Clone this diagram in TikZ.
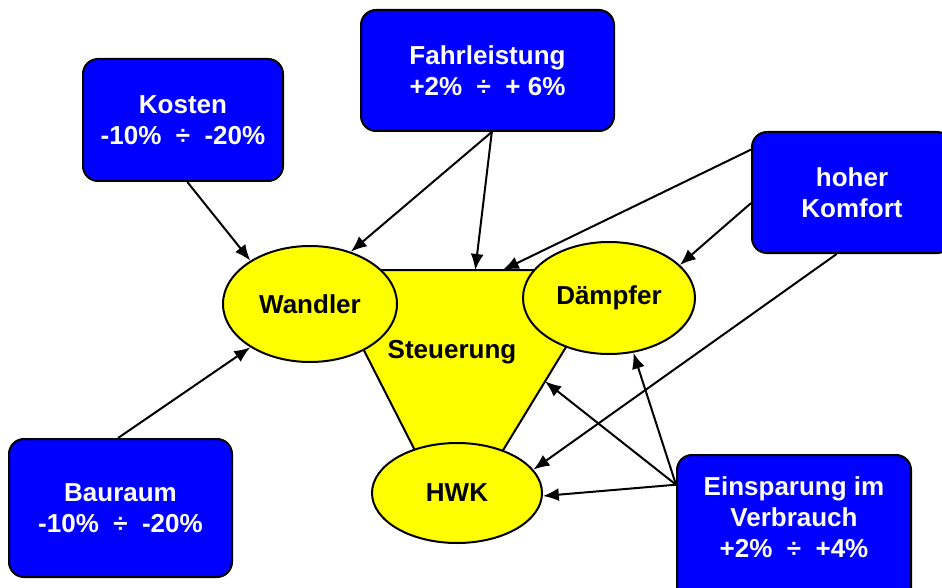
\documentclass[tikz,border=0pt]{standalone}
\usepackage{fontspec}
\setmainfont{Liberation Sans}
\usetikzlibrary{arrows.meta,shapes.geometric,calc}
\definecolor{boxblue}{RGB}{0,0,255}
\definecolor{partyellow}{RGB}{255,255,0}
\newcommand{\diagfont}{\fontsize{26}{31}\selectfont\bfseries}

\begin{document}
\begin{tikzpicture}[x=1pt,y=-1pt]
        \tikzset{box/.style = {shape=rectangle,draw,line width=2pt,rounded corners=15pt,fill=boxblue,text=white,align=center,inner sep=0pt,font=\diagfont}};
        \tikzset{part/.style = {shape=ellipse,draw,line width=2pt,fill=partyellow,inner sep=0pt,font=\diagfont}};
        \tikzset{edge/.style = {-{Latex[length=16pt,width=13pt]},line width=2pt}};
        \useasboundingbox (0,0) rectangle (942,588);
        \clip (0,0) rectangle (942,588);
        % Steuerung
        \coordinate (tl) at (323,270);
        \coordinate (tr) at (613,270);
        \coordinate (tb) at (455,529);
        \draw[line width=2pt,fill=partyellow] (tl) -- (tr) -- (tb) -- cycle;
        \node[font=\diagfont] (steuerung) at (452,352) {Steuerung};
        \coordinate (steuer-top-a) at ($(tl)!0.525!(tr)$);
        \coordinate (steuer-top-b) at ($(tl)!0.62!(tr)$);
        \coordinate (steuer-right) at ($(tr)!0.43!(tb)$);
        % parts
        \node[part,minimum width=174pt,minimum height=116pt] (wandler) at (310,304) {Wandler};
        \node[part,minimum width=172pt,minimum height=112pt] (daempfer) at (609,298) {Dämpfer};
        \node[part,minimum width=170pt,minimum height=100pt] (hwk) at (457,493) {HWK};
        % goals
        \node[box,minimum width=200pt,minimum height=122pt] (kosten) at (183,120) {Kosten\\-10\%~~÷~~-20\%};
        \node[box,minimum width=253pt,minimum height=121pt] (fahr) at (487.5,70.5) {Fahrleistung\\+2\%~~÷~~+ 6\%};
        \node[box,minimum width=200pt,minimum height=121pt] (komfort) at (852,192.5) {hoher\\Komfort};
        \node[box,minimum width=223pt,minimum height=138pt] (bauraum) at (120.5,508) {Bauraum\\-10\%~~÷~~-20\%};
        \node[box,minimum width=234pt,minimum height=150pt] (spar) at (794,530) {};
        \node[font=\diagfont,text=white,align=center] (spartext) at (794,517) {Einsparung im\\Verbrauch\\+2\%~~÷~~+4\%};
        % arrows
        \draw[edge] (kosten.274) to (wandler.144);
        \draw[edge] (fahr.274) to (wandler.52);
        \draw[edge] (fahr.274) to (steuer-top-a);
        \draw[edge] (komfort.157) to (steuer-top-b);
        \draw[edge] (komfort.186) to (daempfer.25);
        \draw[edge] (komfort.256) to (hwk.17);
        \draw[edge] (bauraum.92) to (wandler.216);
        \draw[edge] (spar.159) to (steuer-right);
        \draw[edge] (spar.159) to (daempfer.294);
        \draw[edge] (spar.159) to (hwk.358);
    \end{tikzpicture}
\end{document}
